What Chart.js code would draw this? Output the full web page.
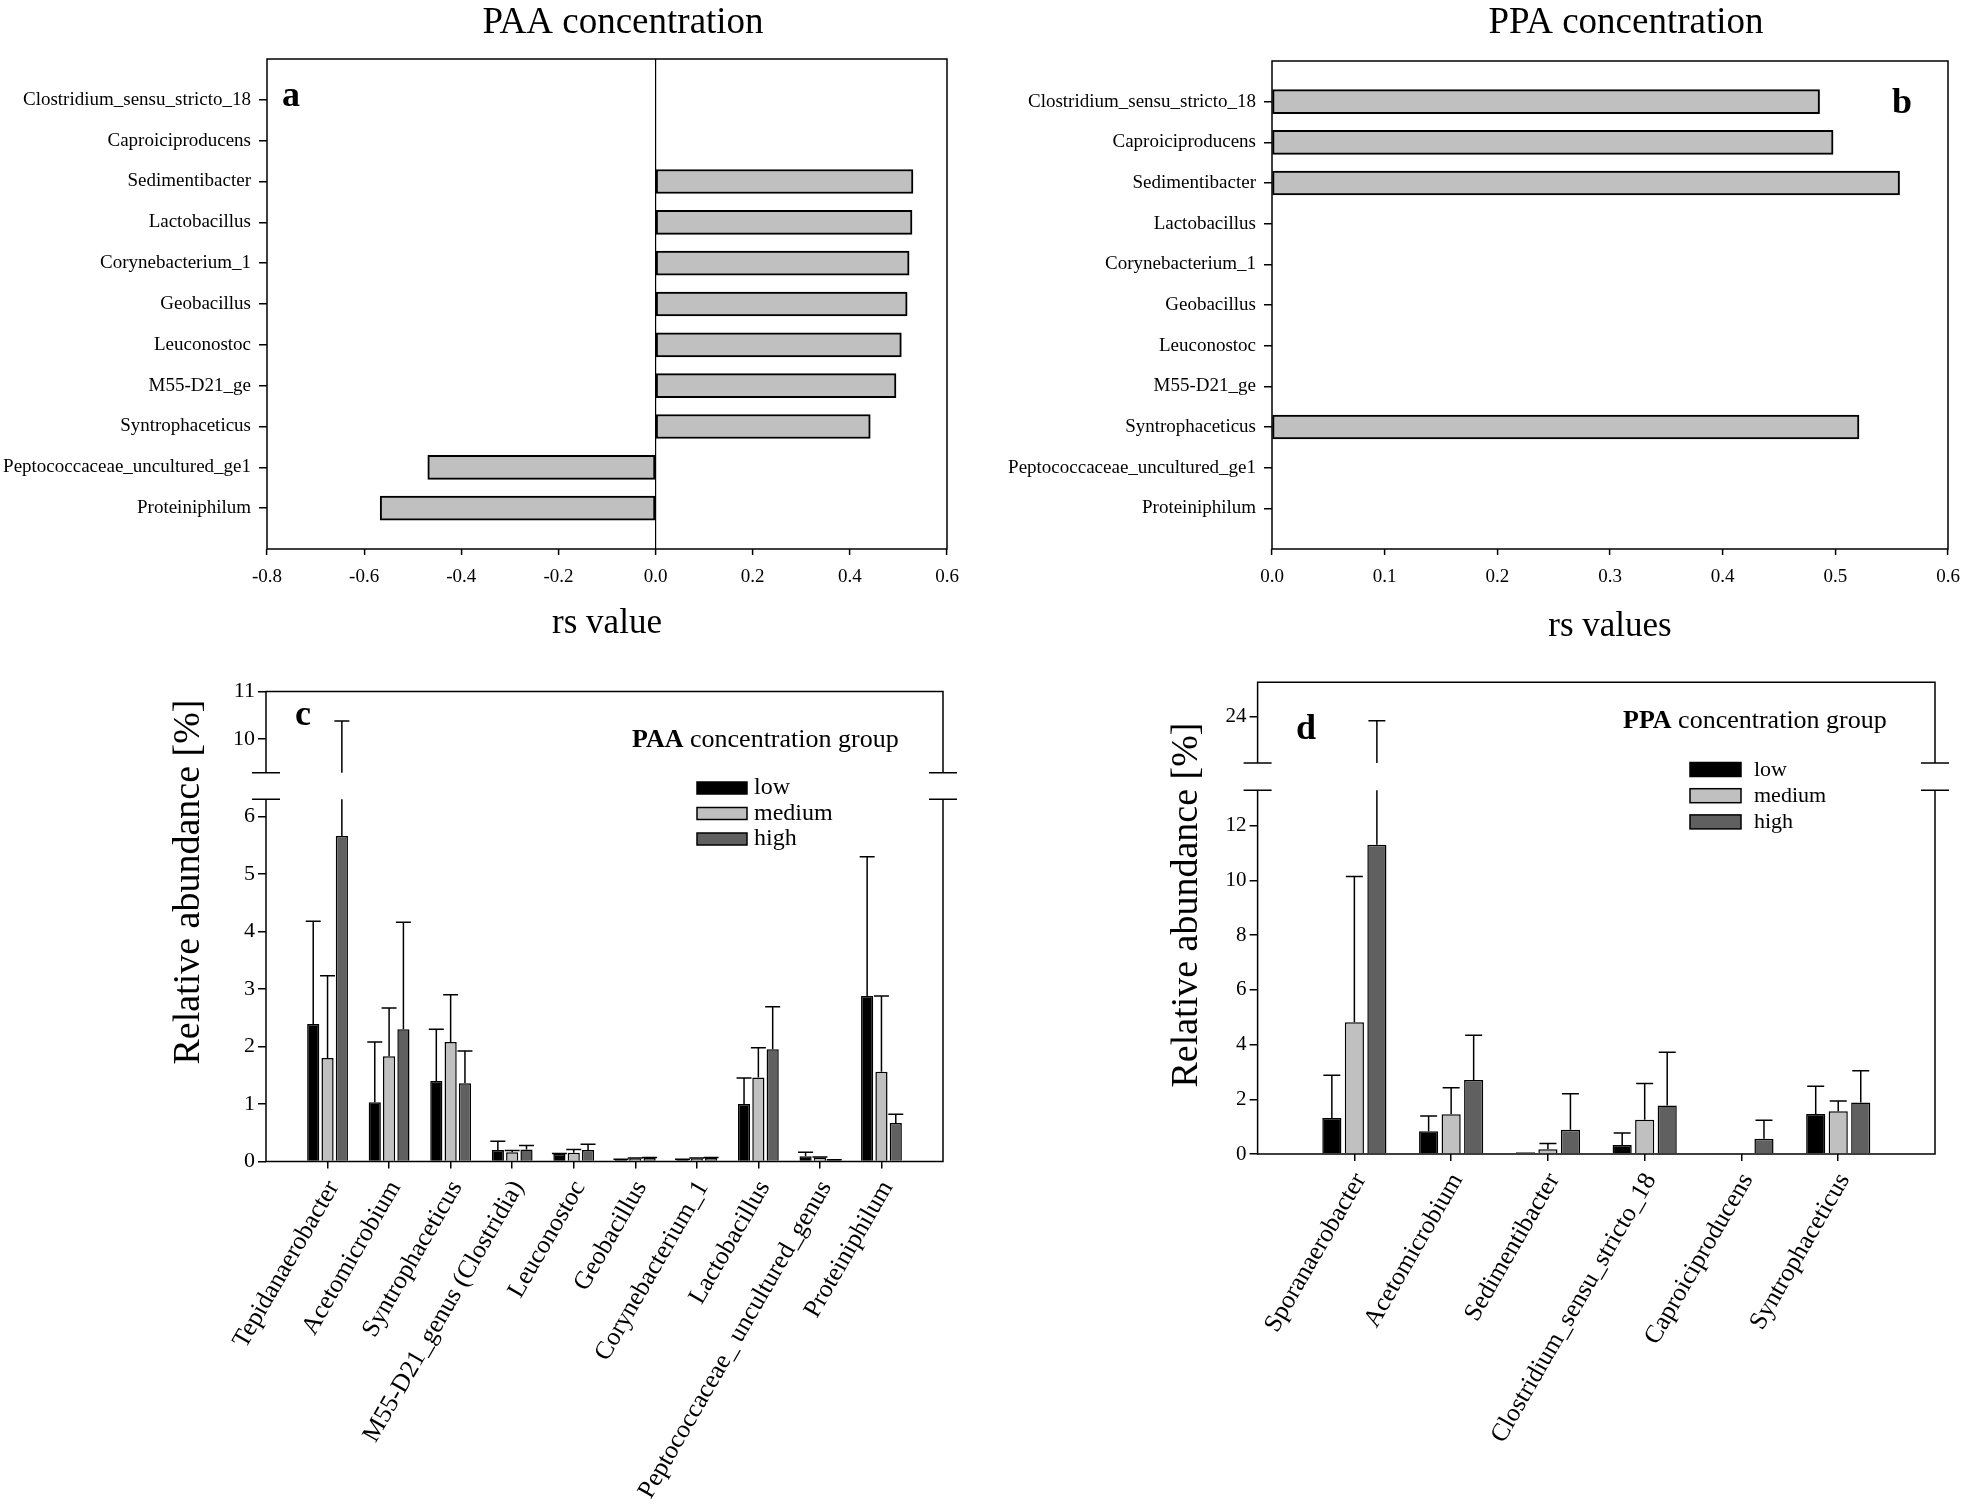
<!DOCTYPE html>
<html>
<head>
<meta charset="utf-8">
<script src="https://cdn.jsdelivr.net/npm/chart.js@4.4.0/dist/chart.umd.min.js"></script>
<style>
  html, body { margin: 0; padding: 0; background: #fff; overflow: hidden; }
  #fig { position: relative; width: 1961px; height: 1507px; overflow: hidden; }
  #fig canvas { position: absolute; }
</style>
</head>
<body>
<div id="fig">
  <canvas id="pa" width="980" height="660" style="left:0;top:0"></canvas>
  <canvas id="pb" width="1000" height="660" style="left:980px;top:0"></canvas>
  <canvas id="pc" width="980" height="847" style="left:0;top:660px"></canvas>
  <canvas id="pd" width="981" height="847" style="left:980px;top:660px"></canvas>
</div>
<script>
// ---- data: rs correlation (panels a, b) ----
const rsTaxa = ["Clostridium_sensu_stricto_18", "Caproiciproducens", "Sedimentibacter", "Lactobacillus",
  "Corynebacterium_1", "Geobacillus", "Leuconostoc", "M55-D21_ge", "Syntrophaceticus",
  "Peptococcaceae_uncultured_ge1", "Proteiniphilum"];
const rsPAA = [null, null, 0.530, 0.528, 0.522, 0.518, 0.506, 0.495, 0.442, -0.469, -0.567];
const rsPPA = [0.486, 0.498, 0.557, null, null, null, null, null, 0.521, null, null];
const ticksA = [-0.8, -0.6, -0.4, -0.2, 0.0, 0.2, 0.4, 0.6];
const ticksB = [0.0, 0.1, 0.2, 0.3, 0.4, 0.5, 0.6];

// ---- data: relative abundance, PAA groups (panel c) ----
const taxaPAA = ["Tepidanaerobacter", "Acetomicrobium", "Syntrophaceticus", "M55-D21_genus (Clostridia)",
  "Leuconostoc", "Geobacillus", "Corynebacterium_1", "Lactobacillus",
  "Peptococcaceae_ uncultured_genus", "Proteiniphilum"];
const paaLow    = [2.39, 1.03, 1.40, 0.20, 0.13, 0.03, 0.03, 1.00, 0.09, 2.88];
const paaLowSd  = [1.79, 1.05, 0.90, 0.15, 0.01, 0.01, 0.01, 0.45, 0.07, 2.42];
const paaMed    = [1.80, 1.83, 2.08, 0.16, 0.15, 0.05, 0.05, 1.46, 0.07, 1.56];
const paaMedSd  = [1.43, 0.84, 0.82, 0.03, 0.06, 0.01, 0.01, 0.52, 0.01, 1.32];
const paaHigh   = [5.66, 2.30, 1.36, 0.21, 0.20, 0.06, 0.06, 1.95, 0.02, 0.67];
const paaHighSd = [4.72, 1.86, 0.56, 0.07, 0.10, 0.01, 0.01, 0.74, 0.01, 0.15];
const yTicksC = [0, 1, 2, 3, 4, 5, 6, 10, 11];

// ---- data: relative abundance, PPA groups (panel d) ----
const taxaPPA = ["Sporanaerobacter", "Acetomicrobium", "Sedimentibacter", "Clostridium_sensu_stricto_18",
  "Caproiciproducens", "Syntrophaceticus"];
const ppaLow    = [1.32, 0.83, 0.06, 0.33, 0.02, 1.46];
const ppaLowSd  = [1.56, 0.56, 0, 0.44, 0, 1.02];
const ppaMed    = [4.82, 1.45, 0.17, 1.25, 0.02, 1.56];
const ppaMedSd  = [5.33, 0.97, 0.21, 1.33, 0, 0.38];
const ppaHigh   = [11.31, 2.71, 0.89, 1.77, 0.56, 1.88];
const ppaHighSd = [12.53, 1.63, 1.31, 1.95, 0.67, 1.16];
const yTicksD = [0, 2, 4, 6, 8, 10, 12, 24];

const groupNames = ["low", "medium", "high"];
const groupColors = ["#000000", "#c0c0c0", "#606060"];

// broken y axes: lower part 0..lowTop, gap, upper part upBot..upTop (k = upper scale factor)
const breakC = { lowTop: 6.3, upBot: 9.29, upTop: 11, gap: 0.461, k: 0.826 };
const breakD = { lowTop: 13.3, upBot: 22.3, upTop: 25.25, gap: 1.0, k: 1 };

const FONT = '"Liberation Serif", "Times New Roman", serif';
Chart.defaults.font.family = FONT;
Chart.defaults.color = "#000";
Chart.defaults.animation = false;

function virt(v, b) {
  return v <= b.lowTop ? v : b.lowTop + b.gap + (v - b.upBot) * b.k;
}

// ===============================
// helpers for text drawn on top
// ===============================
function textPlugin(items) {
  return {
    id: "texts",
    afterDraw(chart) {
      const ctx = chart.ctx;
      ctx.save();
      ctx.fillStyle = "#000";
      items.forEach(t => {
        ctx.font = (t.bold ? "bold " : "") + t.size + "px " + FONT;
        ctx.textAlign = t.align || "left";
        ctx.textBaseline = t.baseline || "alphabetic";
        if (t.rot) {
          ctx.save();
          ctx.translate(t.x, t.y);
          ctx.rotate(t.rot);
          ctx.fillText(t.text, 0, 0);
          ctx.restore();
        } else {
          ctx.fillText(t.text, t.x, t.y);
        }
      });
      ctx.restore();
    }
  };
}

function framePlugin(brk) {
  return {
    id: "frame",
    afterDraw(chart) {
      const { ctx, chartArea: a } = chart;
      ctx.save();
      ctx.strokeStyle = "#000";
      ctx.lineWidth = 1.5;
      ctx.beginPath();
      if (!brk) {
        ctx.rect(a.left, a.top, a.right - a.left, a.bottom - a.top);
      } else {
        const y = chart.scales.y;
        const yl = y.getPixelForValue(brk.lowTop);
        const yu = y.getPixelForValue(virt(brk.upBot, brk));
        ctx.moveTo(a.left, yu); ctx.lineTo(a.left, a.top);
        ctx.lineTo(a.right, a.top); ctx.lineTo(a.right, yu);
        ctx.moveTo(a.left, yl); ctx.lineTo(a.left, a.bottom);
        ctx.lineTo(a.right, a.bottom); ctx.lineTo(a.right, yl);
        [yu, yl].forEach(yy => {
          [a.left, a.right].forEach(xx => {
            ctx.moveTo(xx - 14, yy);
            ctx.lineTo(xx + 14, yy);
          });
        });
      }
      ctx.stroke();
      ctx.restore();
    }
  };
}

function errorPlugin(brk, cap) {
  return {
    id: "errorBars",
    afterDatasetsDraw(chart) {
      const { ctx } = chart;
      const y = chart.scales.y;
      ctx.save();
      ctx.strokeStyle = "#000";
      ctx.lineWidth = 1.5;
      chart.data.datasets.forEach((ds, di) => {
        chart.getDatasetMeta(di).data.forEach((bar, i) => {
          const sd = ds.sd[i];
          if (!sd) return;
          const top = ds.data[i].y + sd;
          const yTop = y.getPixelForValue(virt(top, brk));
          ctx.beginPath();
          ctx.moveTo(bar.x, bar.y);
          if (top > brk.lowTop) {
            ctx.lineTo(bar.x, y.getPixelForValue(brk.lowTop));
            ctx.moveTo(bar.x, y.getPixelForValue(virt(brk.upBot, brk)));
          }
          ctx.lineTo(bar.x, yTop);
          ctx.moveTo(bar.x - cap, yTop);
          ctx.lineTo(bar.x + cap, yTop);
          ctx.stroke();
        });
      });
      ctx.restore();
    }
  };
}

function legendPlugin(o) {
  return {
    id: "groupLegend",
    afterDraw(chart) {
      const ctx = chart.ctx;
      ctx.save();
      ctx.fillStyle = "#000";
      ctx.textBaseline = "alphabetic";
      ctx.font = "bold " + o.titleSize + "px " + FONT;
      ctx.fillText(o.bold, o.titleX, o.titleY);
      const w = ctx.measureText(o.bold).width;
      ctx.font = o.titleSize + "px " + FONT;
      ctx.fillText(" concentration group", o.titleX + w, o.titleY);
      ctx.font = o.size + "px " + FONT;
      chart.data.datasets.forEach((ds, i) => {
        const cy = o.rowY + i * o.rowGap;
        ctx.fillStyle = ds.backgroundColor;
        ctx.fillRect(o.boxX, cy - o.boxH / 2, o.boxW, o.boxH);
        ctx.strokeStyle = "#000";
        ctx.lineWidth = 1.5;
        ctx.strokeRect(o.boxX, cy - o.boxH / 2, o.boxW, o.boxH);
        ctx.fillStyle = "#000";
        ctx.fillText(ds.label, o.textX, cy + 6);
      });
      ctx.restore();
    }
  };
}

// ===============================
// PANELS a, b (rs values)
// ===============================
function rsChart(id, values, xTicks, o) {
  const pts = values.map((v, i) => (v === null ? null : { x: v, y: i + 1 })).filter(p => p);
  return new Chart(document.getElementById(id), {
    type: "bar",
    data: {
      datasets: [{
        data: pts,
        backgroundColor: "#c0c0c0",
        borderColor: "#000",
        borderWidth: 2,
        borderSkipped: false,
        barThickness: 24
      }]
    },
    options: {
      indexAxis: "y",
      responsive: false,
      animation: false,
      layout: { padding: o.padding },
      plugins: { legend: { display: false }, tooltip: { enabled: false } },
      scales: {
        x: {
          type: "linear",
          min: xTicks[0],
          max: xTicks[xTicks.length - 1],
          offset: false,
          afterBuildTicks: s => { s.ticks = xTicks.map(v => ({ value: v })); },
          afterFit: s => { s.height = o.xH; },
          ticks: { callback: v => v.toFixed(1), font: { size: 19 }, padding: 11, color: "#000" },
          grid: {
            offset: false,
            drawOnChartArea: o.zeroLine,
            color: c => (c.tick && Math.abs(c.tick.value) < 1e-9 ? "#000" : "rgba(0,0,0,0)"),
            lineWidth: 1.2,
            tickColor: "#000",
            tickWidth: 1.5,
            tickLength: 6
          },
          border: { display: false },
          title: { display: true, text: o.xTitle, font: { size: 35 }, padding: 0, color: "#000" }
        },
        y: {
          type: "linear",
          reverse: true,
          min: 0,
          max: rsTaxa.length + 1,
          offset: false,
          afterBuildTicks: s => { s.ticks = rsTaxa.map((t, i) => ({ value: i + 1 })); },
          afterFit: s => { s.width = o.yW; },
          ticks: { callback: v => rsTaxa[v - 1], font: { size: 19 }, padding: 8, autoSkip: false, color: "#000" },
          grid: { offset: false, drawOnChartArea: false, tickLength: 8, color: "#000", lineWidth: 1.5 },
          border: { display: false }
        }
      }
    },
    plugins: [framePlugin(null), textPlugin(o.texts)]
  });
}

rsChart("pa", rsPAA, ticksA, {
  padding: { top: 59, right: 33, bottom: 15, left: 0 },
  yW: 267, xH: 96, zeroLine: true, xTitle: "rs value",
  texts: [
    { text: "PAA concentration", x: 623, y: 33, size: 37, align: "center" },
    { text: "a", x: 282, y: 106, size: 36, bold: true }
  ]
});

rsChart("pb", rsPPA, ticksB, {
  padding: { top: 61, right: 32, bottom: 12, left: 0 },
  yW: 292, xH: 99, zeroLine: false, xTitle: "rs values",
  texts: [
    { text: "PPA concentration", x: 646, y: 33, size: 37, align: "center" },
    { text: "b", x: 912, y: 113, size: 36, bold: true }
  ]
});

// ===============================
// PANELS c, d (relative abundance)
// ===============================
function abundChart(id, cats, means, sds, brk, yTicks, o) {
  return new Chart(document.getElementById(id), {
    type: "bar",
    data: {
      datasets: means.map((m, g) => ({
        label: groupNames[g],
        data: cats.map((c, i) => ({ x: i + 1, y: m[i] })),
        sd: sds[g],
        backgroundColor: groupColors[g],
        borderColor: "#000",
        borderWidth: 1.5,
        categoryPercentage: 0.698,
        barPercentage: 0.85
      }))
    },
    options: {
      responsive: false,
      animation: false,
      layout: { padding: o.padding },
      plugins: { legend: { display: false }, tooltip: { enabled: false } },
      scales: {
        x: {
          type: "linear",
          min: 0,
          max: cats.length + 1,
          offset: false,
          afterBuildTicks: s => { s.ticks = cats.map((c, i) => ({ value: i + 1 })); },
          afterFit: s => { s.height = o.xH; },
          ticks: {
            callback: v => cats[v - 1],
            autoSkip: false,
            minRotation: 60,
            maxRotation: 60,
            labelOffset: 6,
            padding: 7,
            font: { size: 25.5 },
            color: "#000"
          },
          grid: { offset: false, drawOnChartArea: false, tickLength: 7, color: "#000", lineWidth: 1.5 },
          border: { display: false }
        },
        y: {
          type: "linear",
          min: 0,
          max: virt(brk.upTop, brk),
          afterBuildTicks: s => { s.ticks = yTicks.map(t => ({ value: virt(t, brk), real: t })); },
          afterFit: s => { s.width = o.yW; },
          ticks: {
            callback: (v, i, t) => String(t[i].real),
            font: { size: o.yTickSize },
            padding: 3,
            color: "#000"
          },
          grid: { drawOnChartArea: false, tickLength: 8, color: "#000", lineWidth: 1.5 },
          border: { display: false }
        }
      }
    },
    plugins: [framePlugin(brk), errorPlugin(brk, o.cap), legendPlugin(o.legend), textPlugin(o.texts)]
  });
}

abundChart("pc", taxaPAA, [paaLow, paaMed, paaHigh], [paaLowSd, paaMedSd, paaHighSd], breakC, yTicksC, {
  padding: { top: 31.5, right: 37, bottom: 0, left: 0 },
  yW: 266, xH: 345.5, yTickSize: 22, cap: 7.5,
  legend: { bold: "PAA", titleX: 632, titleY: 86.5, titleSize: 26, size: 24,
            boxX: 697, boxW: 50, boxH: 12, rowY: 128, rowGap: 25.5, textX: 754 },
  texts: [
    { text: "c", x: 295, y: 64.5, size: 36, bold: true },
    { text: "Relative abundance [%]", x: 189, y: 222, size: 38, align: "center", baseline: "middle", rot: -Math.PI / 2 }
  ]
});

abundChart("pd", taxaPPA, [ppaLow, ppaMed, ppaHigh], [ppaLowSd, ppaMedSd, ppaHighSd], breakD, yTicksD, {
  padding: { top: 22.2, right: 26, bottom: 0, left: 0 },
  yW: 277.6, xH: 353, yTickSize: 21, cap: 8.5,
  legend: { bold: "PPA", titleX: 643, titleY: 68, titleSize: 26, size: 22,
            boxX: 710, boxW: 51, boxH: 14, rowY: 109.5, rowGap: 26.2, textX: 774 },
  texts: [
    { text: "d", x: 316, y: 78.5, size: 36, bold: true },
    { text: "Relative abundance [%]", x: 207, y: 245, size: 38, align: "center", baseline: "middle", rot: -Math.PI / 2 }
  ]
});
</script>
</body>
</html>
